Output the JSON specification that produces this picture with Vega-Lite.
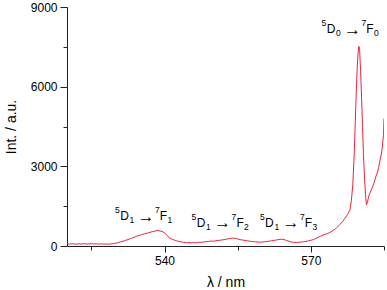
{
  "$schema": "https://vega.github.io/schema/vega-lite/v6.json",
  "width": 317,
  "height": 239,
  "autosize": {"type": "none"},
  "padding": {"left": 67, "top": 7, "right": 3, "bottom": 44},
  "background": "white",
  "config": {
    "view": {"stroke": null},
    "font": "Liberation Sans",
    "text": {"font": "Liberation Sans", "align": "left", "baseline": "alphabetic", "color": "#000"},
    "axis": {"grid": false, "domainColor": "#222", "tickColor": "#222", "labelColor": "#000", "titleColor": "#000", "labelFont": "Liberation Sans", "titleFont": "Liberation Sans", "titleFontWeight": "normal"}
  },
  "datasets": {
    "spec": [
      {"wl": 520.0, "int": 80}, {"wl": 520.5, "int": 72}, {"wl": 521.0, "int": 85}, {"wl": 521.5, "int": 78},
      {"wl": 522.0, "int": 70}, {"wl": 522.5, "int": 82}, {"wl": 523.0, "int": 76}, {"wl": 523.5, "int": 88},
      {"wl": 524.0, "int": 74}, {"wl": 524.5, "int": 80}, {"wl": 525.0, "int": 90}, {"wl": 525.5, "int": 78},
      {"wl": 526.0, "int": 84}, {"wl": 526.5, "int": 72}, {"wl": 527.0, "int": 80}, {"wl": 527.5, "int": 70},
      {"wl": 528.0, "int": 76}, {"wl": 528.5, "int": 68}, {"wl": 529.0, "int": 80}, {"wl": 529.5, "int": 92},
      {"wl": 530.0, "int": 105}, {"wl": 530.5, "int": 130}, {"wl": 531.0, "int": 160}, {"wl": 531.5, "int": 180},
      {"wl": 532.0, "int": 215}, {"wl": 532.5, "int": 240}, {"wl": 533.0, "int": 280}, {"wl": 533.5, "int": 310},
      {"wl": 534.0, "int": 345}, {"wl": 534.5, "int": 390}, {"wl": 535.0, "int": 410}, {"wl": 535.5, "int": 440},
      {"wl": 536.0, "int": 460}, {"wl": 536.5, "int": 490}, {"wl": 537.0, "int": 510}, {"wl": 537.5, "int": 545},
      {"wl": 538.0, "int": 560}, {"wl": 538.5, "int": 590}, {"wl": 539.0, "int": 570}, {"wl": 539.5, "int": 545},
      {"wl": 540.0, "int": 500}, {"wl": 540.5, "int": 400}, {"wl": 541.0, "int": 310}, {"wl": 541.5, "int": 260},
      {"wl": 542.0, "int": 225}, {"wl": 542.5, "int": 195}, {"wl": 543.0, "int": 170}, {"wl": 543.5, "int": 150},
      {"wl": 544.0, "int": 140}, {"wl": 544.5, "int": 125}, {"wl": 545.0, "int": 130}, {"wl": 545.5, "int": 120},
      {"wl": 546.0, "int": 128}, {"wl": 546.5, "int": 118}, {"wl": 547.0, "int": 135}, {"wl": 547.5, "int": 140},
      {"wl": 548.0, "int": 150}, {"wl": 548.5, "int": 165}, {"wl": 549.0, "int": 170}, {"wl": 549.5, "int": 185},
      {"wl": 550.0, "int": 180}, {"wl": 550.5, "int": 200}, {"wl": 551.0, "int": 210}, {"wl": 551.5, "int": 220},
      {"wl": 552.0, "int": 235}, {"wl": 552.5, "int": 250}, {"wl": 553.0, "int": 270}, {"wl": 553.5, "int": 285},
      {"wl": 554.0, "int": 300}, {"wl": 554.5, "int": 290}, {"wl": 555.0, "int": 265}, {"wl": 555.5, "int": 240},
      {"wl": 556.0, "int": 225}, {"wl": 556.5, "int": 210}, {"wl": 557.0, "int": 195}, {"wl": 557.5, "int": 180},
      {"wl": 558.0, "int": 165}, {"wl": 558.5, "int": 160}, {"wl": 559.0, "int": 150}, {"wl": 559.5, "int": 145},
      {"wl": 560.0, "int": 150}, {"wl": 560.5, "int": 160}, {"wl": 561.0, "int": 170}, {"wl": 561.5, "int": 185},
      {"wl": 562.0, "int": 195}, {"wl": 562.5, "int": 210}, {"wl": 563.0, "int": 230}, {"wl": 563.5, "int": 245},
      {"wl": 564.0, "int": 255}, {"wl": 564.5, "int": 240}, {"wl": 565.0, "int": 210}, {"wl": 565.5, "int": 180},
      {"wl": 566.0, "int": 155}, {"wl": 566.5, "int": 140}, {"wl": 567.0, "int": 135}, {"wl": 567.5, "int": 140},
      {"wl": 568.0, "int": 150}, {"wl": 568.5, "int": 160}, {"wl": 569.0, "int": 170}, {"wl": 569.5, "int": 195},
      {"wl": 570.0, "int": 215}, {"wl": 570.5, "int": 240}, {"wl": 571.0, "int": 280}, {"wl": 571.5, "int": 330},
      {"wl": 572.0, "int": 370}, {"wl": 572.5, "int": 410}, {"wl": 573.0, "int": 450}, {"wl": 573.5, "int": 470},
      {"wl": 574.0, "int": 520}, {"wl": 574.5, "int": 580}, {"wl": 575.0, "int": 640}, {"wl": 575.5, "int": 720},
      {"wl": 576.0, "int": 820}, {"wl": 576.5, "int": 920}, {"wl": 577.0, "int": 1050}, {"wl": 577.5, "int": 1180},
      {"wl": 578.0, "int": 1350}, {"wl": 578.3, "int": 1700}, {"wl": 578.6, "int": 2300}, {"wl": 578.9, "int": 3500},
      {"wl": 579.1, "int": 4600}, {"wl": 579.3, "int": 5700}, {"wl": 579.5, "int": 6700}, {"wl": 579.7, "int": 7300},
      {"wl": 579.85, "int": 7520}, {"wl": 580.0, "int": 7400}, {"wl": 580.2, "int": 6600}, {"wl": 580.4, "int": 5600},
      {"wl": 580.6, "int": 4500}, {"wl": 580.8, "int": 3400}, {"wl": 581.0, "int": 2600}, {"wl": 581.2, "int": 1950},
      {"wl": 581.4, "int": 1550}, {"wl": 581.6, "int": 1650}, {"wl": 581.8, "int": 1800}, {"wl": 582.0, "int": 1950},
      {"wl": 582.5, "int": 2150}, {"wl": 583.0, "int": 2400}, {"wl": 583.3, "int": 2600}, {"wl": 583.6, "int": 2750},
      {"wl": 583.9, "int": 2950}, {"wl": 584.2, "int": 3250}, {"wl": 584.5, "int": 3500}, {"wl": 584.7, "int": 3800},
      {"wl": 584.9, "int": 4200}, {"wl": 585.0, "int": 4800}
    ],
    "labels": [
      {"wl": 529.84, "int": 979, "s1": "5", "m1": "D", "b1": "1", "arrow": "→", "s2": "7", "m2": "F", "b2": "1"},
      {"wl": 545.55, "int": 727, "s1": "5", "m1": "D", "b1": "1", "arrow": "→", "s2": "7", "m2": "F", "b2": "2"},
      {"wl": 559.55, "int": 727, "s1": "5", "m1": "D", "b1": "1", "arrow": "→", "s2": "7", "m2": "F", "b2": "3"},
      {"wl": 572.19, "int": 8007, "s1": "5", "m1": "D", "b1": "0", "arrow": "→", "s2": "7", "m2": "F", "b2": "0"}
    ]
  },
  "resolve": {"axis": {"x": "independent", "y": "independent"}},
  "layer": [
    {
      "data": {"name": "spec"},
      "mark": {"type": "line", "color": "#f5203c", "strokeWidth": 1, "clip": true},
      "encoding": {
        "x": {"field": "wl", "type": "quantitative", "scale": {"domain": [520, 585], "nice": false, "zero": false},
          "axis": {"orient": "bottom", "values": [540, 570], "format": "d", "tickSize": 6, "labelFontSize": 12, "labelPadding": 3, "title": "λ / nm", "titleFontSize": 14, "titlePadding": 9}},
        "y": {"field": "int", "type": "quantitative", "scale": {"domain": [0, 9000], "nice": false},
          "axis": {"orient": "left", "values": [0, 3000, 6000, 9000], "format": "d", "tickSize": 7, "labelFontSize": 12, "labelPadding": 3, "title": "Int. / a.u.", "titleFontSize": 14, "titlePadding": 12}}
      }
    },
    {
      "data": {"name": "spec"},
      "mark": {"type": "line", "opacity": 0},
      "encoding": {
        "x": {"field": "wl", "type": "quantitative",
          "axis": {"orient": "bottom", "values": [525, 555, 585], "tickSize": 4, "labels": false, "domain": false, "title": null}},
        "y": {"field": "int", "type": "quantitative",
          "axis": {"orient": "left", "values": [1500, 4500, 7500], "tickSize": 4, "labels": false, "domain": false, "title": null}}
      }
    },
    {
      "data": {"name": "labels"},
      "encoding": {
        "x": {"field": "wl", "type": "quantitative", "axis": null},
        "y": {"field": "int", "type": "quantitative", "axis": null}
      },
      "layer": [
        {"mark": {"type": "text", "fontSize": 8.5, "dx": 0, "dy": -7}, "encoding": {"text": {"field": "s1"}}},
        {"mark": {"type": "text", "fontSize": 12, "dx": 5.2}, "encoding": {"text": {"field": "m1"}}},
        {"mark": {"type": "text", "fontSize": 8.5, "dx": 14.5, "dy": 3}, "encoding": {"text": {"field": "b1"}}},
        {"mark": {"type": "text", "fontSize": 17, "dx": 22.5, "dy": 1.5}, "encoding": {"text": {"field": "arrow"}}},
        {"mark": {"type": "text", "fontSize": 8.5, "dx": 40, "dy": -7}, "encoding": {"text": {"field": "s2"}}},
        {"mark": {"type": "text", "fontSize": 12, "dx": 44.8}, "encoding": {"text": {"field": "m2"}}},
        {"mark": {"type": "text", "fontSize": 8.5, "dx": 52.5, "dy": 3}, "encoding": {"text": {"field": "b2"}}}
      ]
    }
  ]
}
